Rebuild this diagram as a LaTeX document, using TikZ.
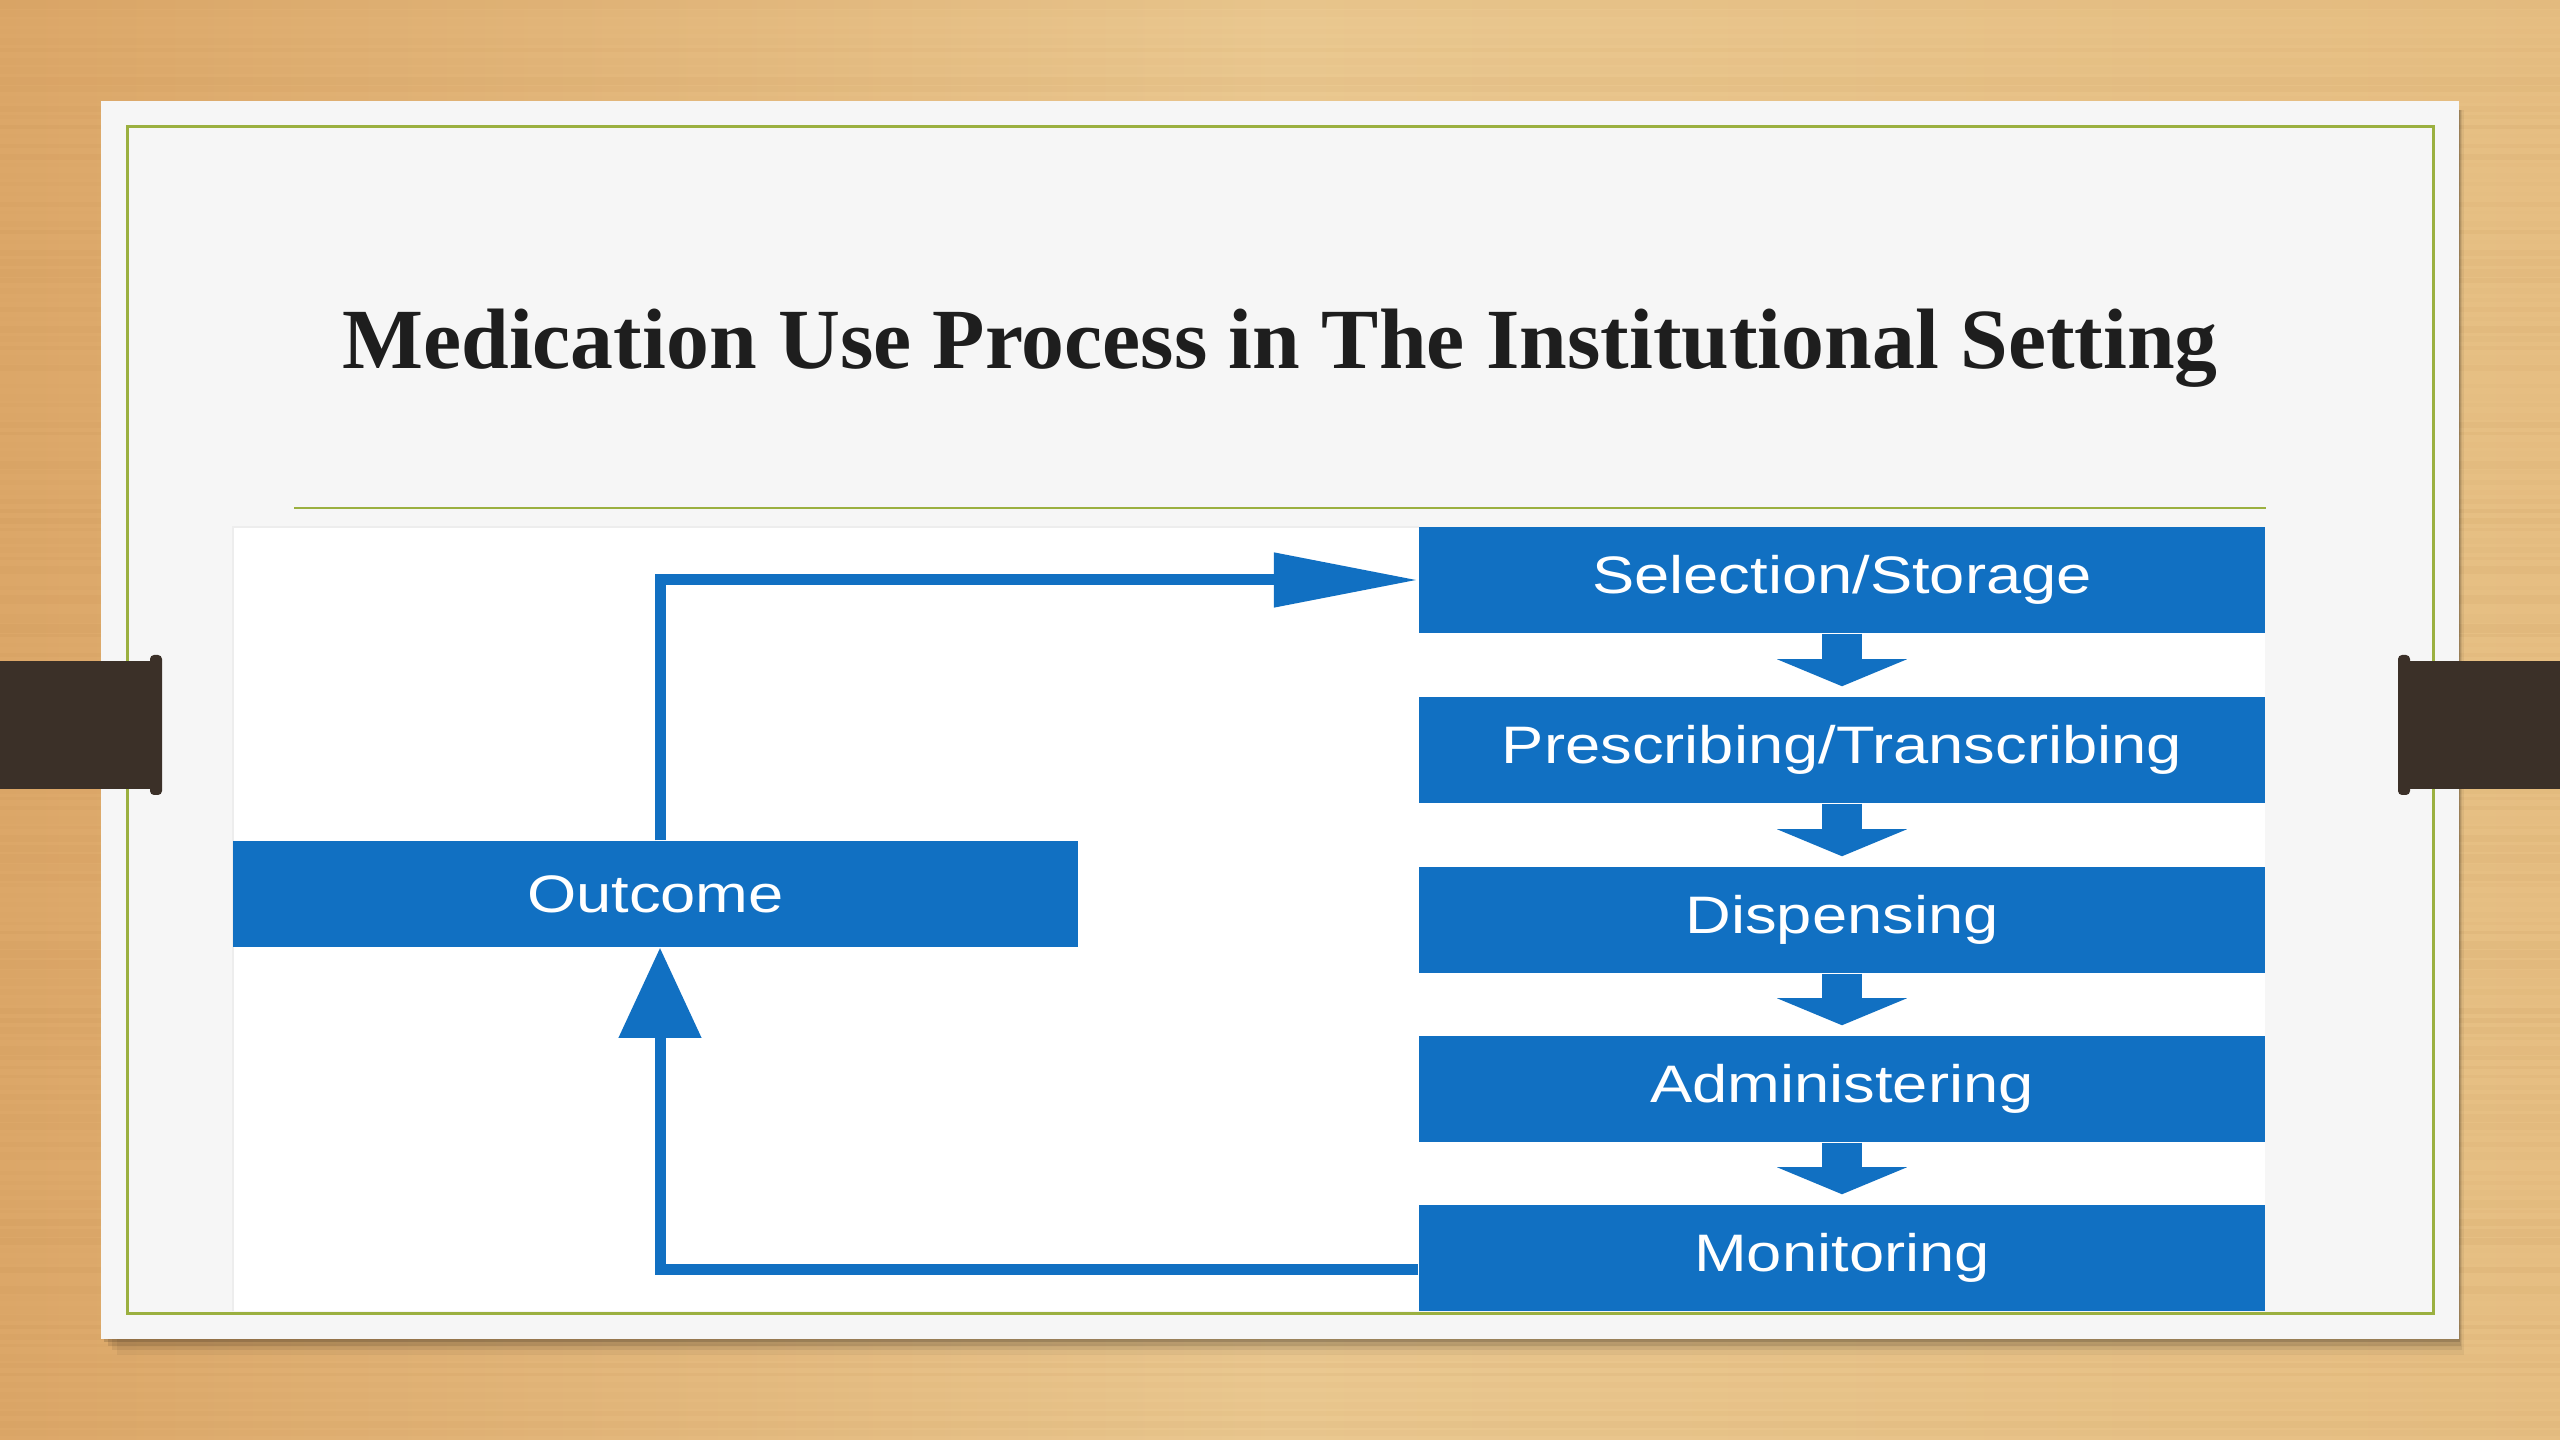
\documentclass[tikz,border=0pt]{standalone}
\usepackage{fontspec}
\usepackage{graphicx}
\setmainfont{Liberation Serif}
\setsansfont{Liberation Sans}
\usetikzlibrary{arrows.meta,calc}
\definecolor{woodL}{HTML}{DCA768}
\definecolor{woodM}{HTML}{EAC890}
\definecolor{woodR}{HTML}{E6BE82}
\definecolor{grain}{HTML}{B07A3C}
\definecolor{slide}{HTML}{F6F6F6}
\definecolor{olive}{HTML}{9BB040}
\definecolor{tabbrown}{HTML}{3B3028}
\definecolor{mblue}{HTML}{1170C2}
\definecolor{titlec}{HTML}{1E1E1E}
\newcommand\stx[1]{\scalebox{1.2}[1]{#1}}
\begin{document}
\begin{tikzpicture}[x=0.01cm,y=-0.01cm,
  stepbox/.style={fill=mblue, minimum width=8.46cm, minimum height=1.06cm,
    inner sep=0pt, text=white, font=\sffamily\fontsize{15}{18}\selectfont},
  downarr/.style={draw=mblue, line width=0.4cm,
    -{Triangle[length=0.27cm, width=1.29cm]}},
  flow/.style={draw=mblue, line width=0.11cm},
  tabbox/.style={fill=tabbrown}]
\useasboundingbox (0,0) rectangle (2560,1440);
% wood background
\shade[left color=woodL, right color=woodR, middle color=woodM] (0,0) rectangle (2560,1440);
\pgfmathsetseed{11}
\foreach \i in {0,...,150}{
  \pgfmathsetmacro\yy{\i*9.6}
  \pgfmathsetmacro\op{rnd*0.08}
  \pgfmathsetmacro\hh{3+rnd*6}
  \fill[grain, opacity=\op] (0,\yy) rectangle (2560,\yy+\hh);
}
% slide shadow
\foreach \k/\o in {16/0.05,11/0.07,7/0.10,3/0.14}{
  \fill[black, opacity=\o] (101+\k,110) rectangle (2459+\k*0.3,1339+\k);
}
% slide panel
\fill[slide] (101,101) rectangle (2459,1339);
\draw[olive, line width=0.03cm] (127,127) rectangle (2433,1313);
% tabs
\fill[tabbox] (0,661) rectangle (160,789);
\fill[tabbox, rounded corners=0.04cm] (150,655) rectangle (162,795);
\fill[tabbox] (2400,661) rectangle (2560,789);
\fill[tabbox, rounded corners=0.04cm] (2398,655) rectangle (2410,795);
% title
\node[anchor=base, inner sep=0pt, text=titlec] (title) at (1280,369)
  {\resizebox{18.74cm}{!}{\bfseries Medication Use Process in The Institutional Setting}};
\draw[olive, line width=0.025cm] (294,508) -- (2266,508);
% diagram area
\fill[white] (233,527) rectangle (2265,1311);
\draw[black!7, line width=0.02cm] (233,1311) -- (233,527) -- (1419,527);
% boxes
\node[stepbox] (sel) at (1842,580) {\stx{Selection/Storage}};
\node[stepbox] (pre) at (1842,750) {\stx{Prescribing/Transcribing}};
\node[stepbox] (dis) at (1842,920) {\stx{Dispensing}};
\node[stepbox] (adm) at (1842,1089) {\stx{Administering}};
\node[stepbox] (mon) at (1842,1258) {\stx{Monitoring}};
\node[stepbox, minimum width=8.45cm] (out) at (655.5,894) {\stx{Outcome}};
% down arrows
\draw[downarr] (sel.south) -- ([yshift=0.1cm]pre.north);
\draw[downarr] (pre.south) -- ([yshift=0.1cm]dis.north);
\draw[downarr] (dis.south) -- ([yshift=0.1cm]adm.north);
\draw[downarr] (adm.south) -- ([yshift=0.1cm]mon.north);
% feedback loop
\draw[flow, -{Triangle[length=1.44cm, width=0.52cm]}]
  ([xshift=0.045cm]out.north) |- (sel.west);
\draw[flow, -{Triangle[length=0.9cm, width=0.8cm]}]
  ([yshift=-0.11cm]mon.west) -| ([xshift=0.045cm]out.south);
\end{tikzpicture}
\end{document}
